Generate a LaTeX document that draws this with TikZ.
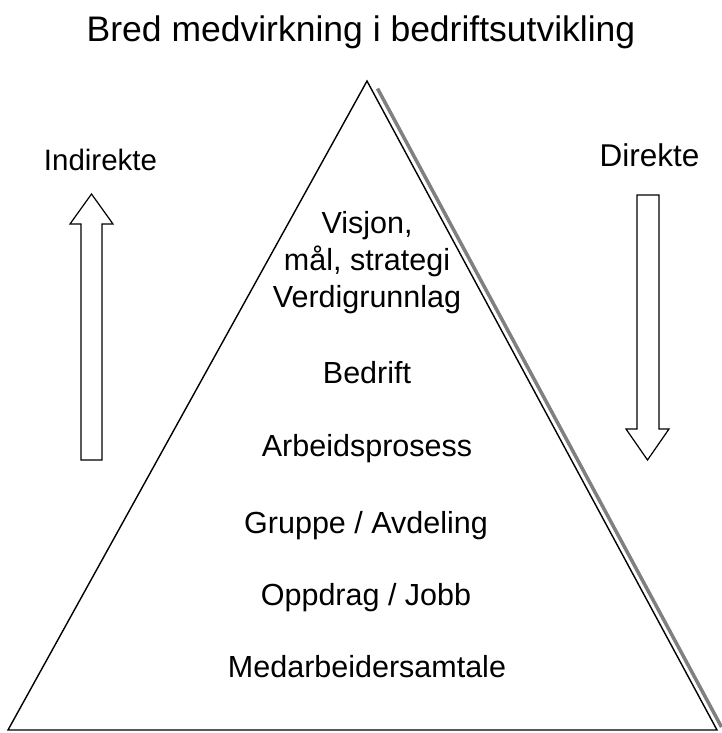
\documentclass[tikz,border=0pt]{standalone}
\usepackage{fontspec}
\setmainfont{Liberation Sans}
\begin{document}
\begin{tikzpicture}[x=1pt,y=-1pt,
  label/.style={anchor=base,inner sep=0pt,font=\fontsize{30.5}{37}\selectfont},
  heading/.style={anchor=base,inner sep=0pt,font=\fontsize{35.5}{40}\selectfont},
  outline/.style={draw=black,line width=1.4pt,line join=miter},
  blockarrow/.style={draw=black,line width=1.2pt,fill=white,line join=miter}]
  \useasboundingbox (0,0) rectangle (722,733);

  % pyramid corners
  \coordinate (apex) at (367,81);
  \coordinate (bl) at (8,730);
  \coordinate (br) at (717,730);
  % shadow along the right flank
  \coordinate (sh1) at (377.5,88.5);
  \coordinate (sh2) at (721.5,727);
  \draw[gray,line width=3.5pt] (sh1) -- (sh2);
  \draw[outline] (apex) -- (br) -- (bl) -- cycle;

  % title
  \node[heading] (title) at (361,41.7) {Bred medvirkning i bedriftsutvikling};

  % side labels
  \node[label,font=\fontsize{29.5}{37}\selectfont] (indirekte) at (100.5,170) {Indirekte};
  \node[label,font=\fontsize{31.5}{37}\selectfont] (direkte) at (649.5,166) {Direkte};

  % upward block arrow (left)
  \draw[blockarrow] (81,460) -- (81,224) -- (70,224) -- (91.5,194) -- (113,224)
    -- (102,224) -- (102,460) -- cycle;
  % downward block arrow (right)
  \draw[blockarrow] (637,195) -- (637,429) -- (626,429) -- (647.5,460) -- (669,429)
    -- (659,429) -- (659,195) -- cycle;

  % levels of the pyramid
  \node[label] (visjon) at (367,233.3) {Visjon,};
  \node[label] (maal) at (367,270) {mål, strategi};
  \node[label] (verdi) at (367,307.3) {Verdigrunnlag};
  \node[label] (bedrift) at (367,383.3) {Bedrift};
  \node[label] (prosess) at (367,456) {Arbeidsprosess};
  \node[label] (gruppe) at (366,533.3) {Gruppe / Avdeling};
  \node[label] (oppdrag) at (366,605) {Oppdrag / Jobb};
  \node[label] (samtale) at (367,677.3) {Medarbeidersamtale};
\end{tikzpicture}
\end{document}
